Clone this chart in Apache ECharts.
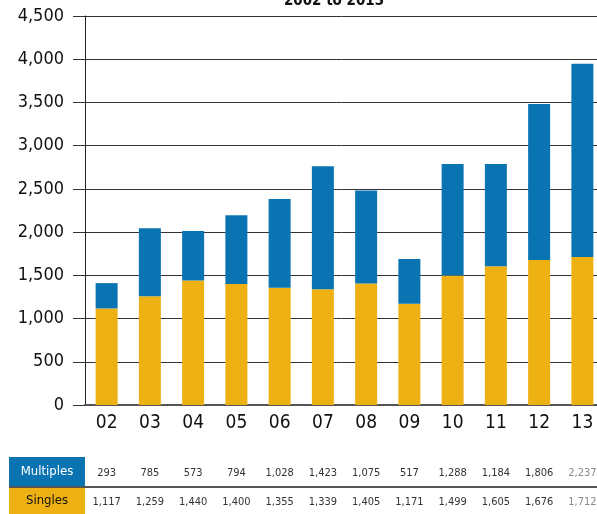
<!DOCTYPE html>
<html>
<head>
<meta charset="utf-8">
<script src="https://cdn.jsdelivr.net/npm/echarts@6/dist/echarts.min.js"></script>
<style>
  html, body { margin: 0; padding: 0; background: #fff; }
  #chart { width: 597px; height: 514px; }
</style>
</head>
<body>
<div id="chart"></div>
<script>
var years = ['02', '03', '04', '05', '06', '07', '08', '09', '10', '11', '12', '13'];
var singles = [1117, 1259, 1440, 1400, 1355, 1339, 1405, 1171, 1499, 1605, 1676, 1712];
var multiples = [293, 785, 573, 794, 1028, 1423, 1075, 517, 1288, 1184, 1806, 2237];
var yTicks = { min: 0, max: 4500, interval: 500 };

var blue = '#0a74b2', gold = '#eeb114';
var font = '"Liberation Sans Narrow", "DejaVu Sans Condensed", sans-serif';

function fmt(v) { return v.toLocaleString('en-US'); }
function cellColor(v, i) { return i === years.length - 1 ? '#8a8a8a' : '#333'; }

var chart = echarts.init(document.getElementById('chart'), null, { renderer: 'canvas' });

chart.setOption({
  animation: false,
  title: {
    text: '2002 to 2013',
    left: 329, top: -11, textAlign: 'center',
    textStyle: { fontFamily: font, fontSize: 15, fontWeight: 'bold', color: '#111' }
  },
  grid: { left: 85, right: -7, top: 16, bottom: 109, containLabel: false, outerBoundsMode: 'none' },
  xAxis: [{
    type: 'category',
    data: years,
    axisLine: { lineStyle: { color: '#555', width: 2 } },
    axisTick: { show: false },
    axisLabel: { color: '#111', fontSize: 19, fontFamily: font, margin: 18, verticalAlign: 'middle' }
  }, {
    type: 'category',
    data: multiples.map(fmt),
    position: 'bottom',
    axisLine: { show: false },
    axisTick: { show: false },
    axisLabel: { color: cellColor, fontSize: 11, fontFamily: font, margin: 68, verticalAlign: 'middle' }
  }, {
    type: 'category',
    data: singles.map(fmt),
    position: 'bottom',
    axisLine: { show: false },
    axisTick: { show: false },
    axisLabel: { color: cellColor, fontSize: 11, fontFamily: font, margin: 97, verticalAlign: 'middle' }
  }],
  yAxis: {
    type: 'value',
    min: yTicks.min, max: yTicks.max, interval: yTicks.interval,
    axisLine: { show: true, lineStyle: { color: '#222', width: 1 } },
    axisTick: { show: true, length: 12, lineStyle: { color: '#333' } },
    axisLabel: { color: '#111', fontSize: 18, fontFamily: font, margin: 21, formatter: fmt },
    splitLine: { lineStyle: { color: '#333', width: 1 } }
  },
  series: [{
    type: 'bar', stack: 'total', data: singles, barWidth: 22,
    itemStyle: { color: gold }
  }, {
    type: 'bar', stack: 'total', data: multiples, barWidth: 22,
    itemStyle: { color: blue }
  }],
  graphic: [
    { type: 'rect', shape: { x: 9, y: 457, width: 76, height: 30 }, style: { fill: blue } },
    { type: 'rect', shape: { x: 9, y: 487, width: 76, height: 27 }, style: { fill: gold } },
    { type: 'rect', shape: { x: 9, y: 486, width: 588, height: 2 }, style: { fill: '#555' } },
    { type: 'text', x: 47, y: 472, style: { text: 'Multiples', fill: '#fff', font: '13px ' + font, textAlign: 'center', textVerticalAlign: 'middle' } },
    { type: 'text', x: 47, y: 501, style: { text: 'Singles', fill: '#111', font: '13px ' + font, textAlign: 'center', textVerticalAlign: 'middle' } }
  ]
});
</script>
</body>
</html>
